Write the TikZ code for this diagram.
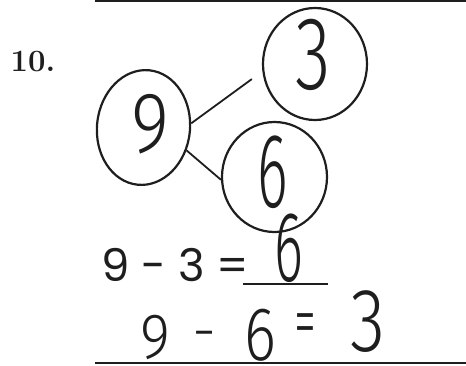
\documentclass[tikz,border=0pt]{standalone}
\usepackage{fontspec}
\usepackage{graphicx}
\usetikzlibrary{shapes.geometric}
\newfontfamily\handfont{Fira Sans Light}
\newfontfamily\printfont{Poppins}
\definecolor{ink}{HTML}{1E1E1E}
\newcommand{\hd}[3]{{\fontsize{#1}{#1}\selectfont\scalebox{#2}[1]{#3}}}
\tikzset{
  ring/.style={draw=ink, line width=2.2pt, ellipse, inner sep=0pt},
  hand/.style={text=ink, inner sep=0pt, font=\handfont},
  link/.style={draw=ink, line width=1.8pt},
  rule/.style={draw=ink, line width=2pt},
}
\begin{document}
\begin{tikzpicture}[x=1pt,y=-1pt]
\useasboundingbox (0,0) rectangle (466,365);
% top and bottom rules
\coordinate (tl) at (95,1);
\coordinate (tr) at (466,1);
\draw[rule, line width=1.5pt] (tl) -- (tr);
\coordinate (bl) at (95,363);
\coordinate (br) at (466,363);
\draw[rule] (bl) -- (br);
% problem number
\node[text=ink, inner sep=0pt, font=\fontsize{31}{31}\selectfont\bfseries] (num) at (33,62) {10.};
% number bond circles
\node[ring, minimum width=93pt, minimum height=115pt, rotate=-6] (c9) at (143.5,127.5) {};
\node[ring, minimum width=104pt, minimum height=112pt] (c3) at (315,64) {};
\node[ring, minimum width=105pt, minimum height=110pt] (c6) at (274.5,177) {};
% digits in circles
\node[hand] (d9) at (150,124) {\hd{86}{0.85}{9}};
\node[hand] (d3) at (313,55) {\hd{104}{0.7}{3}};
\node[hand] (d6) at (273,172) {\hd{106}{0.55}{6}};
% connectors
\draw[link, shorten >=13pt] (c9.11) -- (c3.188);
\draw[link] (c9.-22) -- (c6.183);
% printed equation
\node[text=ink, inner sep=0pt, anchor=west, font=\printfont\fontsize{45}{45}\selectfont] (eq1) at (101,265) {9 - 3 =};
\coordinate (al) at (243,284);
\coordinate (ar) at (328,284);
\draw[rule, line width=2.5pt] (al) -- (ar);
\node[hand, anchor=south] (a6) at (289,283) {\hd{100}{0.55}{6}};
% handwritten equation
\node[hand, anchor=south] (h9) at (155,360) {\hd{64}{0.9}{9}};
\node[hand] (hm) at (205,341) {\hd{60}{1}{-}};
\node[hand, anchor=south] (h6) at (260,362) {\hd{76}{0.8}{6}};
\node[hand] (he) at (305,330) {\hd{74}{0.6}{=}};
\node[hand] (h3) at (368,322) {\hd{90}{0.8}{3}};
\end{tikzpicture}
\end{document}
